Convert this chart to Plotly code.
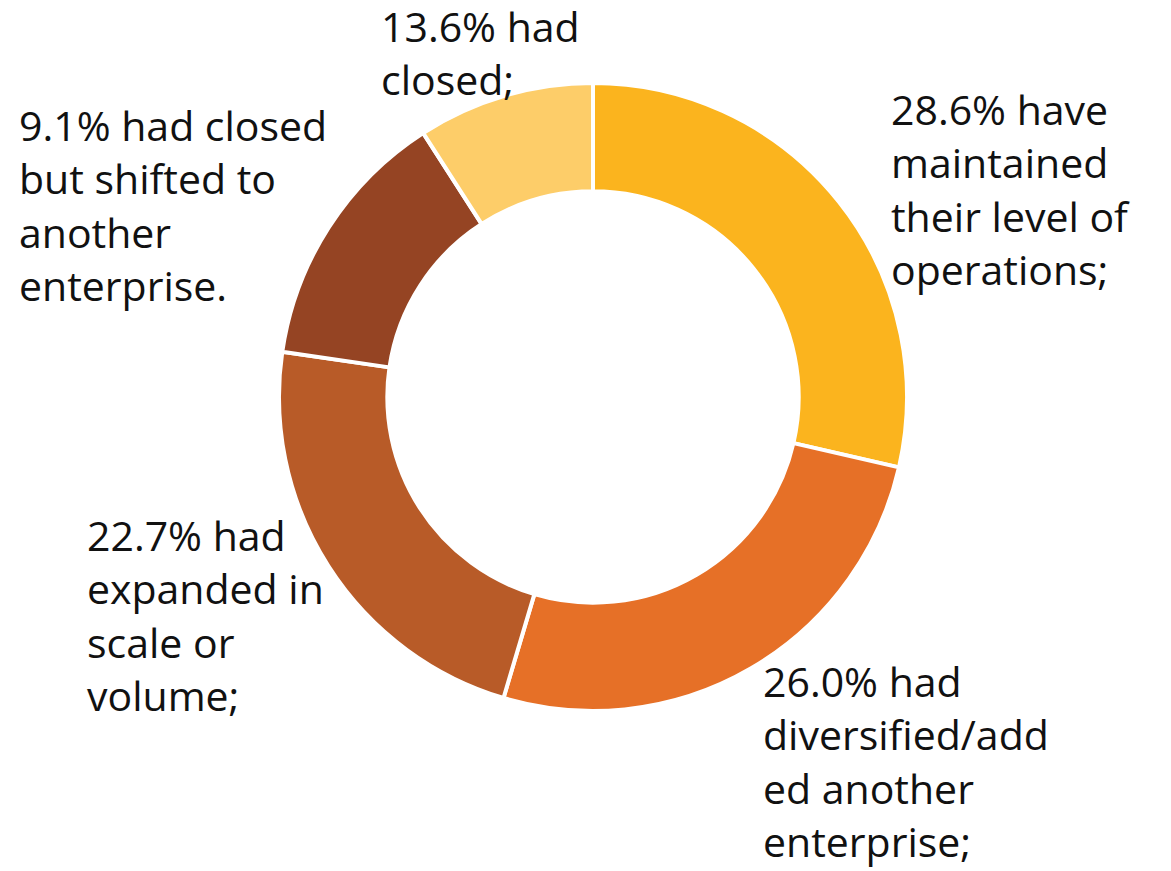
import plotly.graph_objects as go

# Slice values, clockwise from 12 o'clock
slice_names = ["Maintained level of operations", "Diversified/added another enterprise",
               "Expanded in scale or volume", "Closed but shifted to another enterprise", "Closed"]
slice_values = [28.6, 26.0, 22.7, 13.6, 9.1]
slice_colors = ["#FBB41E", "#E67027", "#B85B28", "#954423", "#FDCD69"]

# Label texts as printed in the chart
label_texts = [
    "28.6% have<br>maintained<br>their level of<br>operations;",
    "26.0% had<br>diversified/add<br>ed another<br>enterprise;",
    "22.7% had<br>expanded in<br>scale or<br>volume;",
    "9.1% had closed<br>but shifted to<br>another<br>enterprise.",
    "13.6% had<br>closed;",
]
# label anchor positions (pixels: left, top)
label_pos = [(882, 72), (754, 644), (78, 498), (10, 88), (372, -11)]

W, H = 1171, 871
cx, cy, r = 585, 389, 314

fig = go.Figure(go.Pie(
    labels=slice_names,
    values=slice_values,
    sort=False,
    direction="clockwise",
    rotation=0,
    hole=0.655,
    marker=dict(colors=slice_colors, line=dict(color="white", width=4)),
    textinfo="none",
    hoverinfo="label+value",
    domain=dict(x=[(cx - r) / W, (cx + r) / W], y=[1 - (cy + r) / H, 1 - (cy - r) / H]),
    showlegend=False,
))

for txt, (px, py) in zip(label_texts, label_pos):
    fig.add_annotation(
        text=txt, x=px / W, y=1 - py / H, xref="paper", yref="paper",
        xanchor="left", yanchor="top", align="left", showarrow=False,
        borderpad=0,
        font=dict(family="Open Sans", size=41, color="#111111"),
    )

fig.update_layout(width=W, height=H, margin=dict(l=0, r=0, t=0, b=0),
                  paper_bgcolor="white", plot_bgcolor="white")
fig.write_html("out.html")
